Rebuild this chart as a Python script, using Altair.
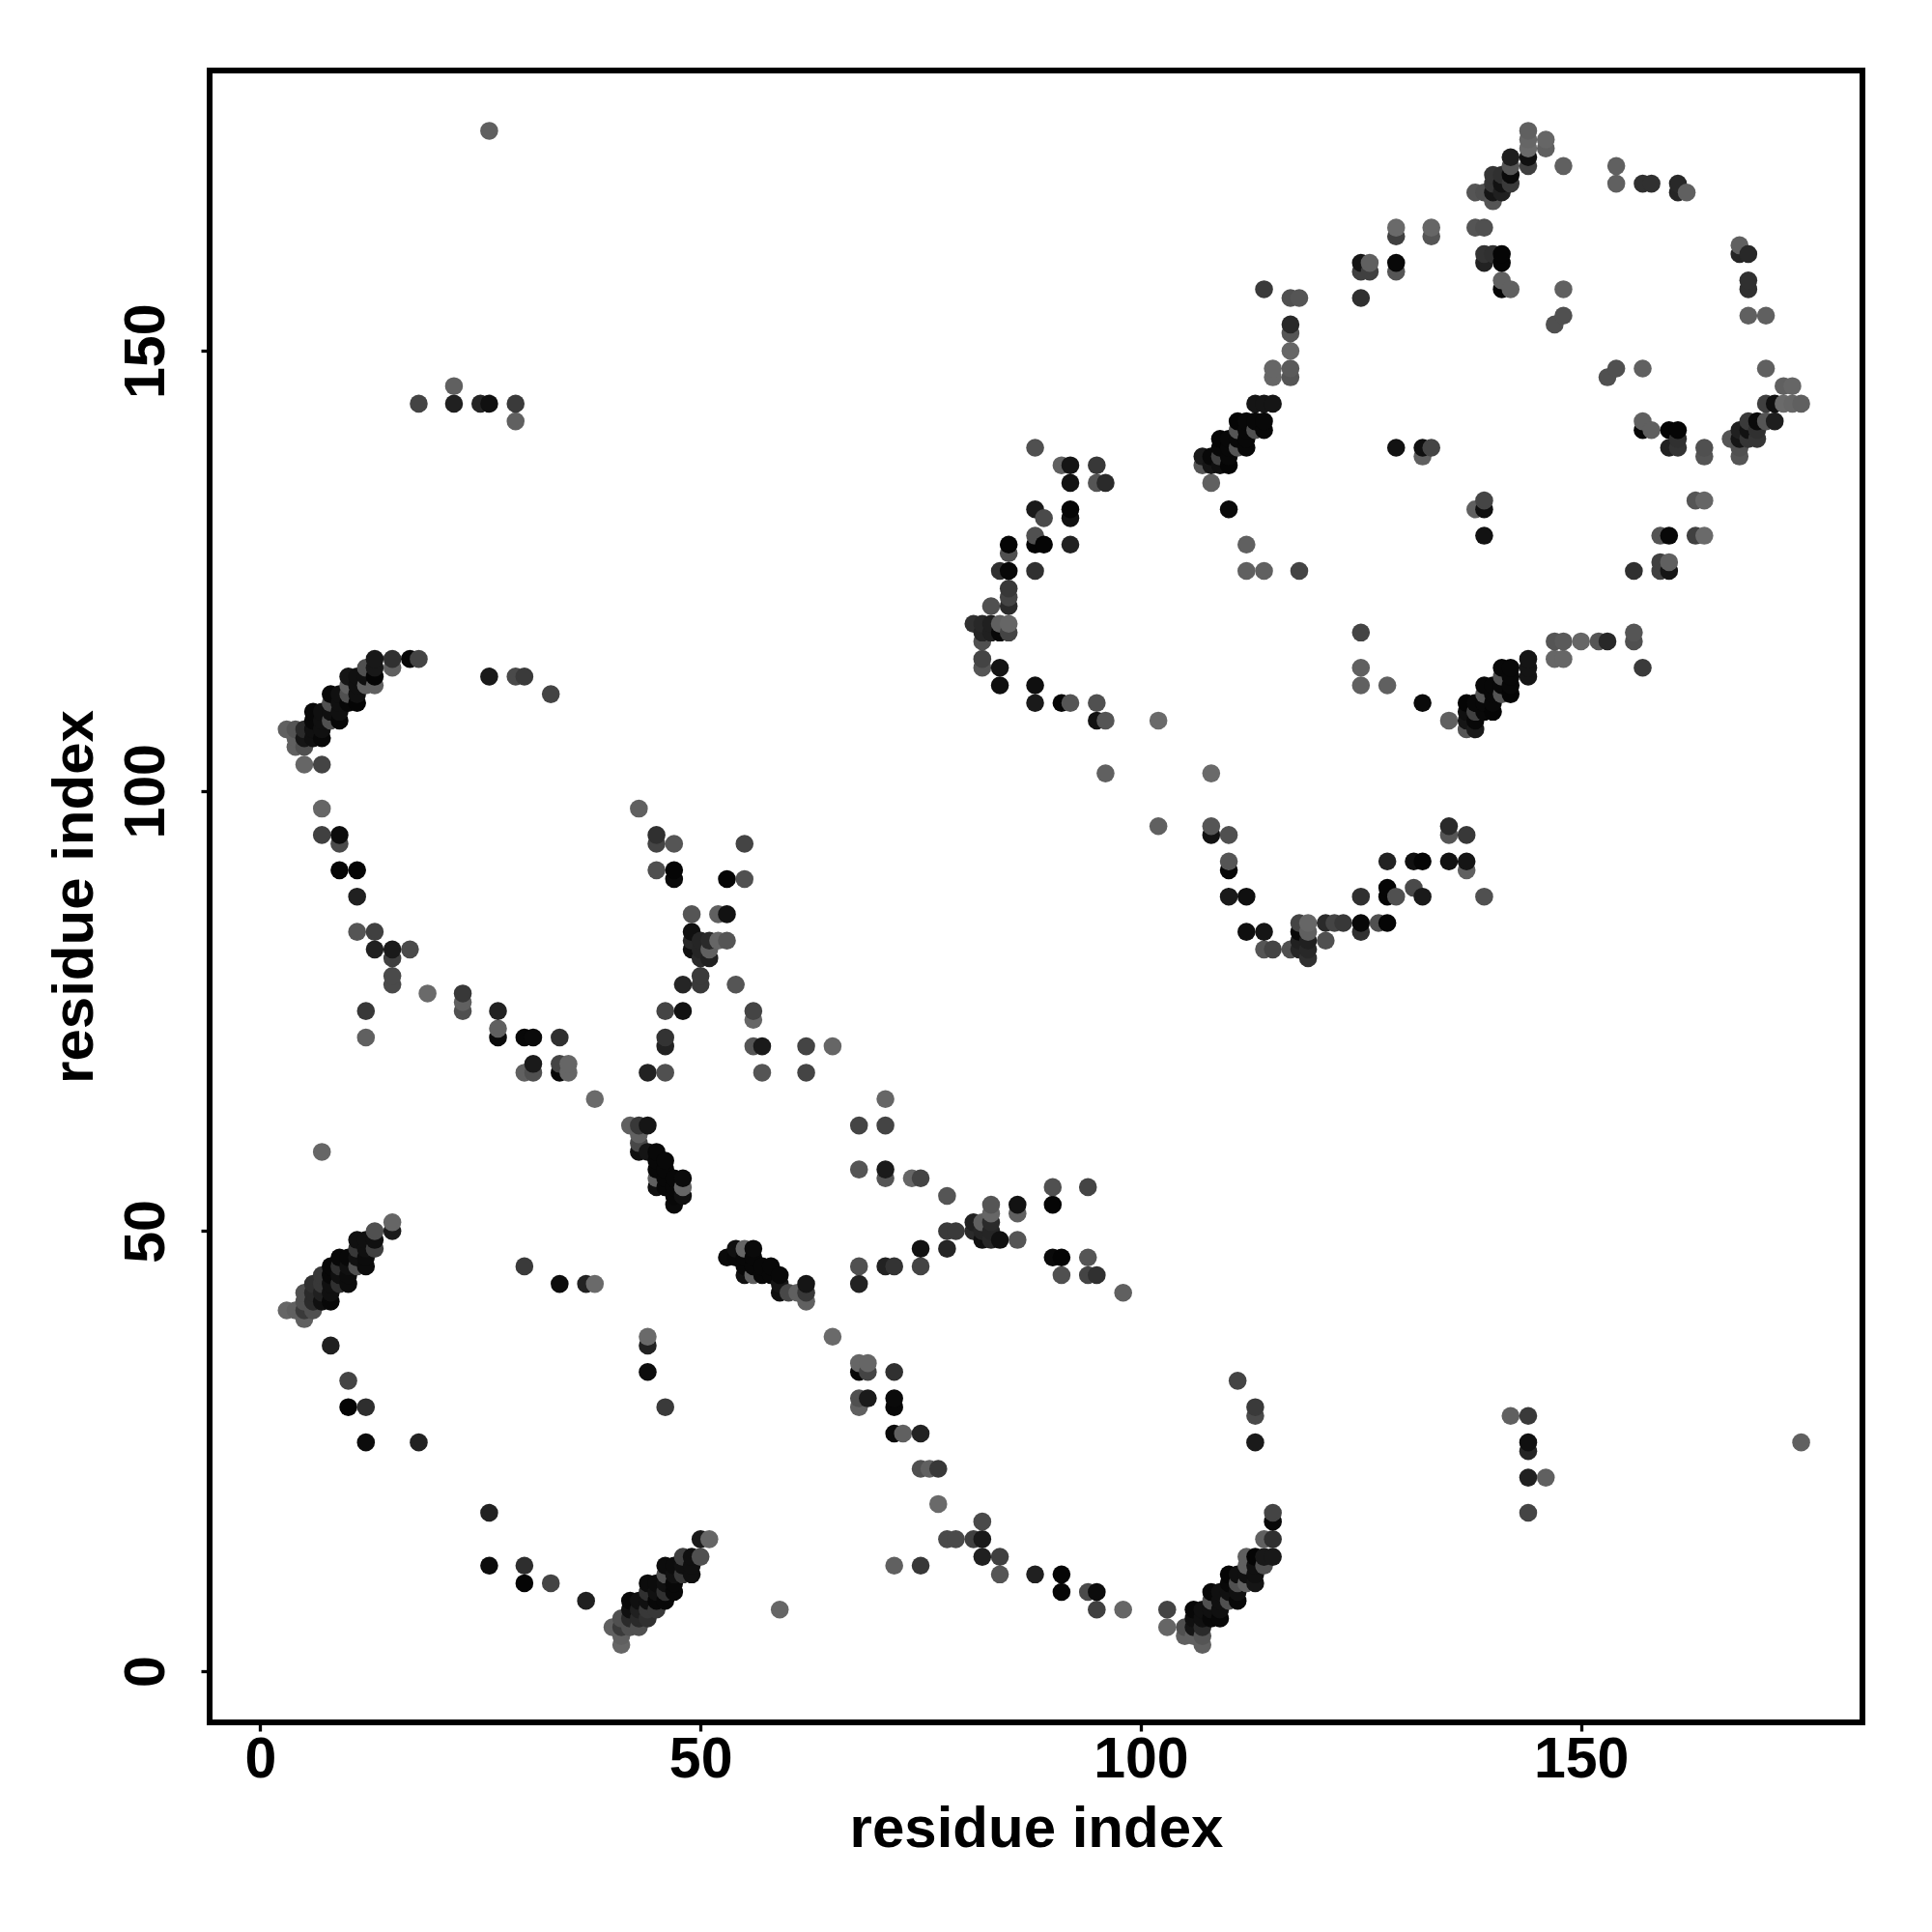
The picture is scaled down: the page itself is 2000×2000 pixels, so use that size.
import altair as alt
import pandas as pd

# contacts as (residue a, residue b, grey level); the map is symmetric
helix_a = [(3,41,0x66),(4,41,0x60),(5,40,0x60),(5,41,0x3a),(5,42,0x50),(5,43,0x50),(6,41,0x50),(6,42,0x2a),(6,43,0x2a),(6,44,0x30),
 (7,42,0x10),(7,43,0x20),(7,44,0x38),(7,45,0x38),(8,42,0x08),(8,43,0x10),(8,44,0x10),(8,45,0x08),(8,46,0x08),(9,44,0x30),(9,45,0x10),
 (9,46,0x30),(9,47,0x08),(10,44,0x0c),(10,45,0x0c),(10,46,0x10),(10,47,0x08),(11,46,0x50),(11,47,0x10),(11,48,0x38),(11,49,0x10),
 (12,46,0x0c),(12,47,0x0c),(12,48,0x10),(12,49,0x10),(13,48,0x40),(13,49,0x10),(13,50,0x50),(15,50,0x1a),(15,51,0x66)]
isolated_a = [(7,59,0x66),(18,26,0x22),(12,26,0x0c),(12,30,0x2e),(10,30,0x05),(10,33,0x44),(8,37,0x20),(34,44,0x0c),(37,44,0x22),
 (38,44,0x6a),(30,46,0x3a),(26,175,0x60),(29,142,0x60),(29,144,0x3a),(26,144,0x10),(25,144,0x25),(22,144,0x20),(22,146,0x60),(18,144,0x44)]
hairpin_a = [(47,53,0x0a),(47,54,0x08),(47,55,0x08),(47,56,0x08),(48,54,0x10),(48,55,0x66),(48,56,0x0a),(46,55,0x08),(46,56,0x08),
 (46,57,0x08),(46,58,0x08),(45,55,0x10),(45,56,0x60),(45,57,0x08),(45,58,0x08),(45,59,0x08),(44,59,0x15),(43,59,0x10),(43,60,0x48),
 (43,61,0x60),(44,62,0x15),(43,62,0x38),(42,62,0x60)]
strand_b = [(38,65,0x6a),(35,68,0x66),(35,69,0x66),(34,68,0x08),(34,69,0x44),(34,72,0x30),(31,68,0x50),(31,69,0x1a),(30,68,0x60),
 (31,72,0x0a),(30,72,0x08),(27,72,0x0a),(27,73,0x60),(27,75,0x22),(23,75,0x50),(23,76,0x60),(23,77,0x38),(19,77,0x6a),(17,82,0x4a),
 (15,78,0x4a),(15,79,0x4a),(15,81,0x40),(15,82,0x1a),(13,82,0x20),(13,84,0x40),(11,84,0x55),(12,72,0x60),(12,75,0x38),(11,88,0x20),
 (11,91,0x05),(9,91,0x05),(9,94,0x4a),(9,95,0x0c),(7,95,0x40),(7,98,0x66),(7,103,0x44),(5,103,0x66)]
strand_c = [(57,68,0x55),(57,71,0x1a),(56,71,0x55),(56,74,0x66),(56,75,0x44),(54,78,0x55),(53,83,0x55),(52,83,0x66),(51,81,0x20),
 (51,82,0x60),(51,83,0x2a),(50,78,0x3a),(50,79,0x3a),(50,81,0x2a),(50,82,0x25),(50,83,0x25),(49,82,0x10),(49,83,0x28),(49,84,0x10),
 (49,86,0x55),(53,86,0x12),(52,86,0x60),(55,90,0x50),(55,94,0x44),(53,90,0x05),(48,75,0x12),(48,78,0x25),(46,68,0x50),(46,71,0x22),
 (46,72,0x33),(46,75,0x44),(44,68,0x22),(62,68,0x44),(62,71,0x44),(65,71,0x66),(47,90,0x0a),(47,91,0x05),(47,94,0x55),(45,91,0x50),
 (45,94,0x44),(45,95,0x30),(43,98,0x60)]
helix_d = [(3,107,0x60),(4,107,0x55),(4,105,0x60),(5,105,0x50),(4,106,0x60),(5,106,0x15),(5,107,0x2a),(7,106,0x08),(6,106,0x10),
 (6,107,0x10),(6,108,0x08),(9,108,0x08),(6,109,0x08),(7,107,0x10),(7,108,0x10),(7,109,0x10),(8,108,0x50),(8,109,0x10),(8,110,0x50),
 (8,111,0x08),(9,109,0x10),(9,110,0x10),(9,111,0x10),(11,110,0x05),(10,110,0x08),(11,111,0x10),(10,111,0x50),(10,112,0x60),(10,113,0x15),
 (11,112,0x10),(11,113,0x10),(12,114,0x50),(13,112,0x60),(13,113,0x05),(13,114,0x18),(13,115,0x18),(12,113,0x10),(12,112,0x60),
 (15,114,0x60),(15,115,0x30),(17,115,0x08),(18,115,0x44),(33,111,0x44),(30,113,0x3a),(29,113,0x4a),(26,113,0x1a)]
strand_e = [(102,108,0x6a),(96,102,0x60),(96,108,0x55),(95,108,0x12),(95,110,0x50),(92,110,0x55),(91,110,0x05),(88,110,0x1a),(88,112,0x0f),
 (84,112,0x0f),(84,114,0x15),(82,114,0x55),(82,115,0x44),(82,117,0x50),(85,118,0x44),(85,119,0x66),(84,119,0x60),(84,118,0x08),(83,118,0x20),
 (83,119,0x20),(82,118,0x25),(82,119,0x28),(81,119,0x30),(83,121,0x50),(85,121,0x2a),(85,122,0x44),(85,123,0x38),(85,125,0x08),(84,125,0x30),
 (85,127,0x50),(85,128,0x05),(88,125,0x30),(88,128,0x05),(89,128,0x05),(88,129,0x50),(92,128,0x22),(88,139,0x50),(91,137,0x60),(92,137,0x15),
 (95,137,0x38),(92,135,0x12),(95,135,0x55),(96,135,0x2a),(88,132,0x1a),(89,131,0x4a),(92,132,0x05),(92,131,0x10)]
helix_f = [(114,157,0x3a),(117,156,0x50),(118,156,0x55),(117,153,0x28),(117,152,0x55),(117,150,0x66),(117,148,0x5a),(117,147,0x55),(115,148,0x66),
 (115,147,0x66),(113,144,0x15),(114,144,0x15),(115,144,0x15),(111,142,0x05),(112,142,0x08),(113,142,0x08),(114,142,0x08),(114,141,0x08),(113,141,0x50),
 (111,141,0x55),(112,141,0x08),(112,140,0x08),(109,140,0x05),(110,140,0x08),(111,140,0x08),(111,139,0x55),(112,139,0x08),(109,139,0x08),(110,139,0x08),
 (107,138,0x1a),(108,138,0x08),(109,138,0x40),(110,138,0x08),(110,137,0x05),(109,137,0x0f),(108,137,0x15),(107,137,0x55),(108,135,0x60),(110,132,0x0a),
 (112,128,0x60),(112,125,0x60),(114,125,0x60),(118,125,0x44)]
helix_g = [(129,164,0x6a),(129,163,0x40),(133,164,0x66),(133,163,0x55),(125,160,0x15),(126,160,0x60),(125,159,0x40),(126,159,0x40),(129,160,0x08),
 (129,159,0x55),(125,156,0x30),(144,175,0x60),(144,174,0x66),(144,173,0x6a),(146,174,0x66),(146,173,0x60),(144,172,0x10),(144,171,0x40),(148,171,0x60),
 (142,172,0x1e),(142,171,0x55),(142,170,0x0a),(142,169,0x3a),(140,170,0x35),(141,170,0x30),(141,169,0x12),(140,169,0x35),(140,168,0x15),(141,168,0x20),
 (140,167,0x55),(138,168,0x55),(139,168,0x50),(154,171,0x60),(154,169,0x60),(157,169,0x30),(158,169,0x30),(161,169,0x28),(161,168,0x25),(162,168,0x60),
 (138,164,0x55),(139,164,0x50),(139,161,0x33),(140,161,0x30),(141,161,0x05),(139,160,0x22),(141,160,0x05),(141,158,0x60),(141,157,0x05),(142,157,0x60),
 (148,157,0x60),(148,154,0x50),(147,153,0x50)]
core_k = [(129,139,0x12),(132,139,0x0f),(133,139,0x45),(132,138,0x60)]

all_groups = [helix_a, isolated_a, hairpin_a, strand_b, strand_c, helix_d, strand_e, helix_f, helix_g, core_k]
seen = {}
for group in all_groups:
    for a, b, g in group:
        seen.setdefault((a, b), g)

rows = []
for (a, b), g in seen.items():
    c = "#%02x%02x%02x" % (g, g, g)
    rows.append({"x": a, "y": b, "c": c})
    rows.append({"x": b, "y": a, "c": c})
df = pd.DataFrame(rows).sort_values(["x", "y"]).reset_index(drop=True)

x_ticks = [0, 50, 100, 150]
y_ticks = [0, 50, 100, 150]

font = "Liberation Sans"
chart = alt.Chart(df).mark_circle(size=345, opacity=1).encode(
    x=alt.X("x:Q", scale=alt.Scale(domain=[-5.75, 181.96], nice=False, zero=False),
            axis=alt.Axis(values=x_ticks, title="residue index", grid=False, domain=False,
                          tickColor="black", tickWidth=3.3, tickSize=9,
                          labelColor="black", labelFont=font, labelFontSize=59, labelFontWeight="bold",
                          labelPadding=0, labelFlush=False, labelOverlap=False,
                          titleColor="black", titleFont=font, titleFontSize=60, titleFontWeight="bold",
                          titlePadding=13)),
    y=alt.Y("y:Q", scale=alt.Scale(domain=[-5.81, 181.85], nice=False, zero=False),
            axis=alt.Axis(values=y_ticks, title="residue index", grid=False, domain=False,
                          tickColor="black", tickWidth=3.3, tickSize=9,
                          labelColor="black", labelFont=font, labelFontSize=59, labelFontWeight="bold",
                          labelAngle=270, labelAlign="center", labelBaseline="bottom", labelPadding=27,
                          labelFlush=False, labelOverlap=False,
                          titleColor="black", titleFont=font, titleFontSize=60, titleFontWeight="bold",
                          titlePadding=14)),
    color=alt.Color("c:N", scale=None),
    order=alt.Order("x:Q"),
).properties(
    width=1711, height=1710, autosize="none", background="white",
    padding={"left": 209, "top": 65, "right": 50, "bottom": 200},
).configure_view(stroke="black", strokeWidth=6, fill="white")

chart.save("out.html", embed_options={"renderer": "svg", "actions": False})
